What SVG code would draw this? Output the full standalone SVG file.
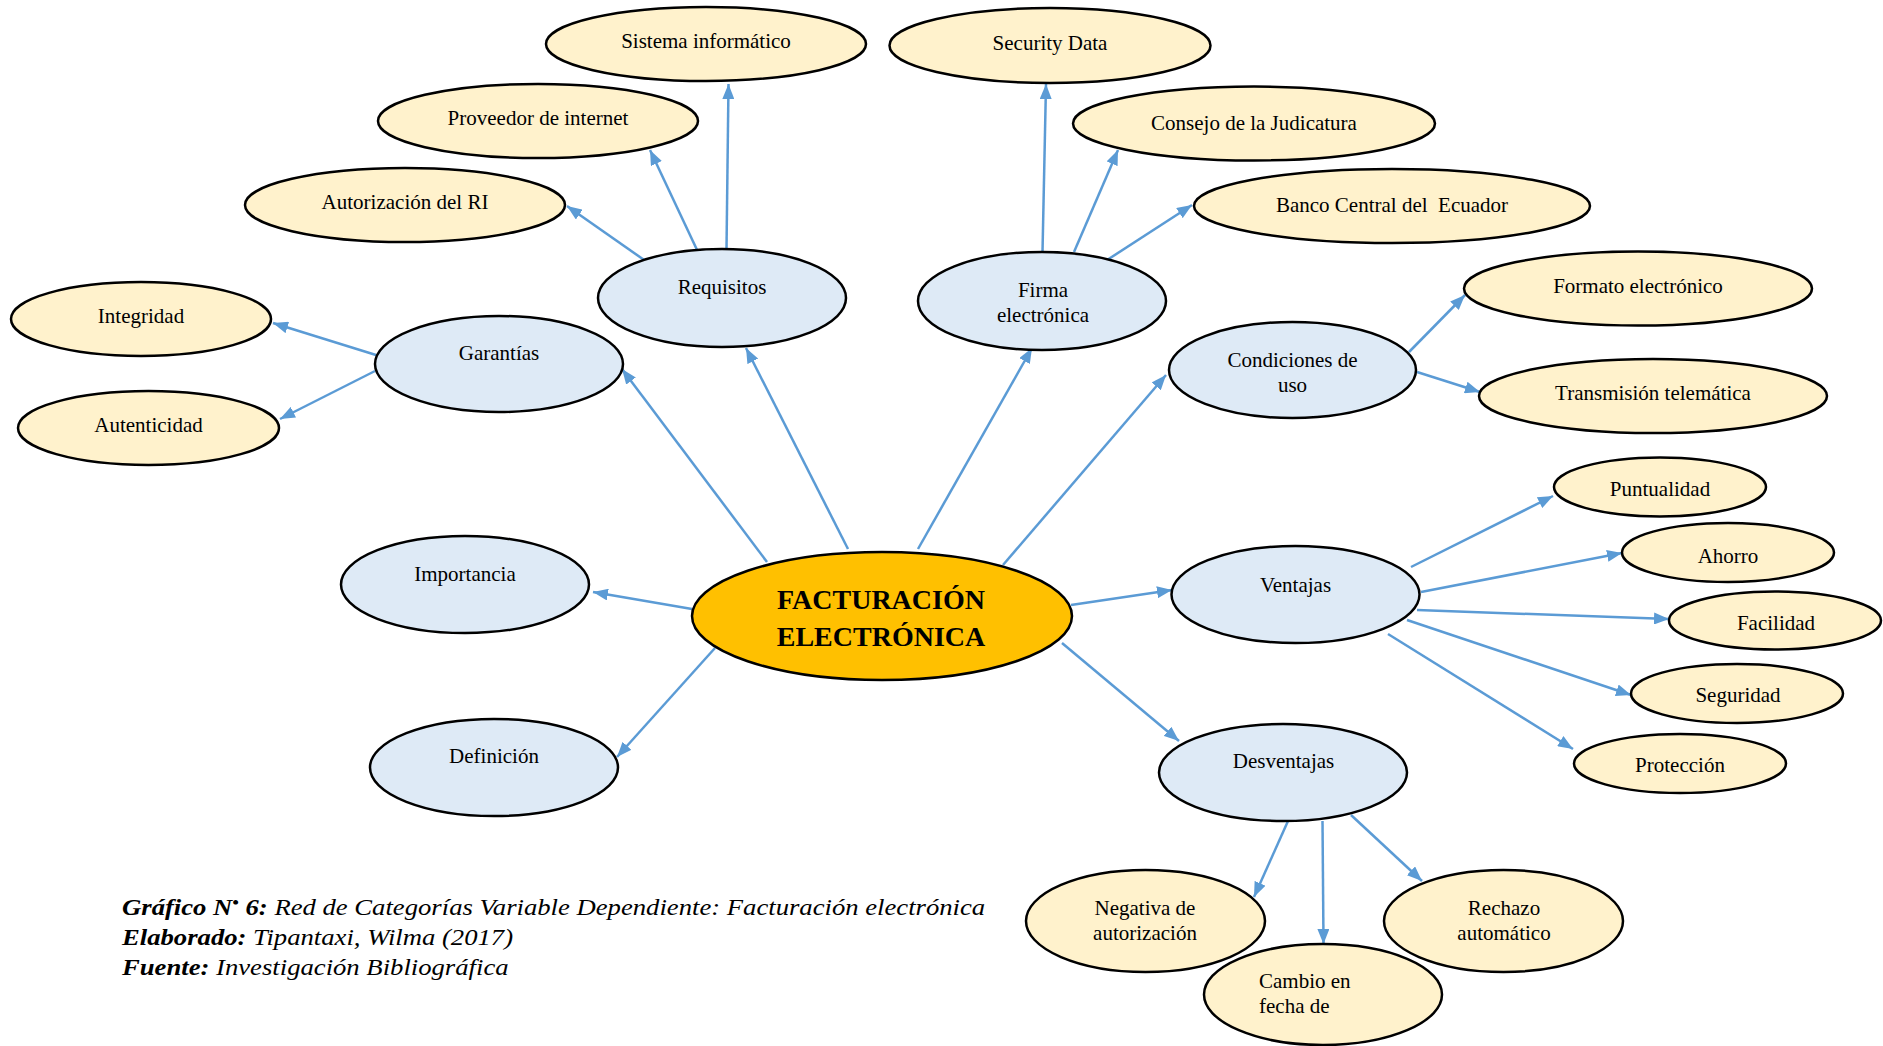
<svg xmlns="http://www.w3.org/2000/svg" width="1883" height="1046" viewBox="0 0 1883 1046">
<style>
.n ellipse{stroke:#000;stroke-width:2.5}
.main ellipse{fill:#FFC000}
.cat ellipse{fill:#DEEAF6}
.sub ellipse{fill:#FFF2CC}
text{font-family:"Liberation Serif","Times New Roman",serif;font-size:21px;fill:#000;text-anchor:middle}
.main text{font-size:28px;font-weight:bold}
#connectors line{stroke:#5B9BD5;stroke-width:2.5;marker-end:url(#ah)}
.cap text{text-anchor:start;font-style:italic;font-size:23px}
.b{font-weight:bold}
</style>
<defs>
<marker id="ah" markerUnits="userSpaceOnUse" markerWidth="15" markerHeight="12" refX="15" refY="6" orient="auto">
<path d="M0,0 L15,6 L0,12 z" fill="#5B9BD5"/>
</marker>
</defs>
<rect width="1883" height="1046" fill="#fff"/>
<g id="connectors">
<line x1="767" y1="562" x2="622" y2="369"/>
<line x1="848" y1="549" x2="746" y2="348"/>
<line x1="918" y1="549" x2="1032" y2="348"/>
<line x1="1003" y1="565" x2="1166" y2="375"/>
<line x1="1071" y1="605" x2="1172" y2="590"/>
<line x1="1062" y1="643" x2="1179" y2="741"/>
<line x1="692" y1="609" x2="593" y2="592"/>
<line x1="715" y1="648" x2="617" y2="757"/>
<line x1="647" y1="262" x2="567" y2="206"/>
<line x1="698" y1="252" x2="650" y2="150"/>
<line x1="726.5" y1="249" x2="728.5" y2="84"/>
<line x1="376" y1="355" x2="273" y2="323"/>
<line x1="375" y1="371" x2="280" y2="419"/>
<line x1="1042.5" y1="252" x2="1046" y2="84"/>
<line x1="1074" y1="252" x2="1118" y2="150"/>
<line x1="1104" y1="262" x2="1192" y2="205"/>
<line x1="1409" y1="352" x2="1465" y2="295"/>
<line x1="1417" y1="372" x2="1480" y2="392"/>
<line x1="1411" y1="567" x2="1553" y2="496"/>
<line x1="1421" y1="592" x2="1622" y2="553"/>
<line x1="1417" y1="610" x2="1669" y2="619"/>
<line x1="1407" y1="620" x2="1631" y2="695"/>
<line x1="1388" y1="634" x2="1573" y2="749"/>
<line x1="1288" y1="821" x2="1254" y2="897"/>
<line x1="1322.5" y1="821" x2="1323.5" y2="944"/>
<line x1="1351" y1="815" x2="1422" y2="881"/>
</g>
<g id="n-central" class="n main"><ellipse cx="882" cy="616" rx="190" ry="64"/><text x="881" y="609">FACTURACIÓN</text><text x="881" y="646">ELECTRÓNICA</text></g>
<g id="n-garantias" class="n cat"><ellipse cx="499" cy="364" rx="124" ry="48"/><text x="499" y="360">Garantías</text></g>
<g id="n-requisitos" class="n cat"><ellipse cx="722" cy="298" rx="124" ry="49"/><text x="722" y="294">Requisitos</text></g>
<g id="n-firma" class="n cat"><ellipse cx="1042" cy="301" rx="124" ry="49"/><text x="1043" y="297">Firma</text><text x="1043" y="322">electrónica</text></g>
<g id="n-condiciones" class="n cat"><ellipse cx="1292.5" cy="370" rx="123.5" ry="48"/><text x="1292.5" y="367">Condiciones de</text><text x="1292.5" y="392">uso</text></g>
<g id="n-ventajas" class="n cat"><ellipse cx="1295.5" cy="594.5" rx="124" ry="48.5"/><text x="1295.5" y="592">Ventajas</text></g>
<g id="n-desventajas" class="n cat"><ellipse cx="1283" cy="772.5" rx="124" ry="48.5"/><text x="1283.5" y="768">Desventajas</text></g>
<g id="n-importancia" class="n cat"><ellipse cx="465" cy="584.5" rx="124" ry="48.5"/><text x="465" y="581">Importancia</text></g>
<g id="n-definicion" class="n cat"><ellipse cx="494" cy="767.5" rx="124" ry="48.5"/><text x="494" y="763">Definición</text></g>
<g id="n-sistema" class="n sub"><ellipse cx="706" cy="44" rx="160" ry="37"/><text x="706" y="48">Sistema informático</text></g>
<g id="n-proveedor" class="n sub"><ellipse cx="538" cy="121" rx="160" ry="37"/><text x="538" y="125">Proveedor de internet</text></g>
<g id="n-autorizacion" class="n sub"><ellipse cx="405" cy="205" rx="160" ry="37"/><text x="405" y="209">Autorización del RI</text></g>
<g id="n-integridad" class="n sub"><ellipse cx="141" cy="319" rx="130" ry="37"/><text x="141" y="323">Integridad</text></g>
<g id="n-autenticidad" class="n sub"><ellipse cx="148.5" cy="428" rx="130.5" ry="37"/><text x="148.5" y="432">Autenticidad</text></g>
<g id="n-security" class="n sub"><ellipse cx="1050" cy="45.5" rx="160.5" ry="37.5"/><text x="1050" y="50">Security Data</text></g>
<g id="n-consejo" class="n sub"><ellipse cx="1254" cy="123.5" rx="181" ry="37"/><text x="1254" y="130">Consejo de la Judicatura</text></g>
<g id="n-banco" class="n sub"><ellipse cx="1392" cy="206" rx="198" ry="37"/><text x="1392" y="212" xml:space="preserve">Banco Central del  Ecuador</text></g>
<g id="n-formato" class="n sub"><ellipse cx="1638" cy="288.5" rx="174" ry="37"/><text x="1638" y="293">Formato electrónico</text></g>
<g id="n-transmision" class="n sub"><ellipse cx="1653" cy="396" rx="174" ry="37"/><text x="1653" y="400">Transmisión telemática</text></g>
<g id="n-puntualidad" class="n sub"><ellipse cx="1660" cy="487" rx="106" ry="29.5"/><text x="1660" y="496">Puntualidad</text></g>
<g id="n-ahorro" class="n sub"><ellipse cx="1728" cy="552.5" rx="106" ry="29.5"/><text x="1728" y="563">Ahorro</text></g>
<g id="n-facilidad" class="n sub"><ellipse cx="1775" cy="620.5" rx="106" ry="29"/><text x="1776" y="630">Facilidad</text></g>
<g id="n-seguridad" class="n sub"><ellipse cx="1737" cy="693.5" rx="106" ry="29.5"/><text x="1738" y="702">Seguridad</text></g>
<g id="n-proteccion" class="n sub"><ellipse cx="1680" cy="763.5" rx="106" ry="29.5"/><text x="1680" y="772">Protección</text></g>
<g id="n-negativa" class="n sub"><ellipse cx="1145.5" cy="921" rx="119.5" ry="51"/><text x="1145" y="915">Negativa de</text><text x="1145" y="940">autorización</text></g>
<g id="n-cambio" class="n sub"><ellipse cx="1323" cy="994.5" rx="119" ry="50.5"/><text x="1259" y="988" style="text-anchor:start">Cambio en</text><text x="1259" y="1013" style="text-anchor:start">fecha de</text></g>
<g id="n-rechazo" class="n sub"><ellipse cx="1503.5" cy="921" rx="119.5" ry="51"/><text x="1504" y="915">Rechazo</text><text x="1504" y="940">automático</text></g>
<g id="caption" class="cap" transform="translate(122,0) scale(1.16,1)">
<text x="0" y="915"><tspan class="b">Gráfico N<tspan font-size="16" dy="-7">•</tspan><tspan dy="7"> 6:</tspan></tspan> Red de Categorías Variable Dependiente: Facturación electrónica</text>
<text x="0" y="945"><tspan class="b">Elaborado:</tspan> Tipantaxi, Wilma (2017)</text>
<text x="0" y="975"><tspan class="b">Fuente:</tspan> Investigación Bibliográfica</text>
</g>
</svg>
